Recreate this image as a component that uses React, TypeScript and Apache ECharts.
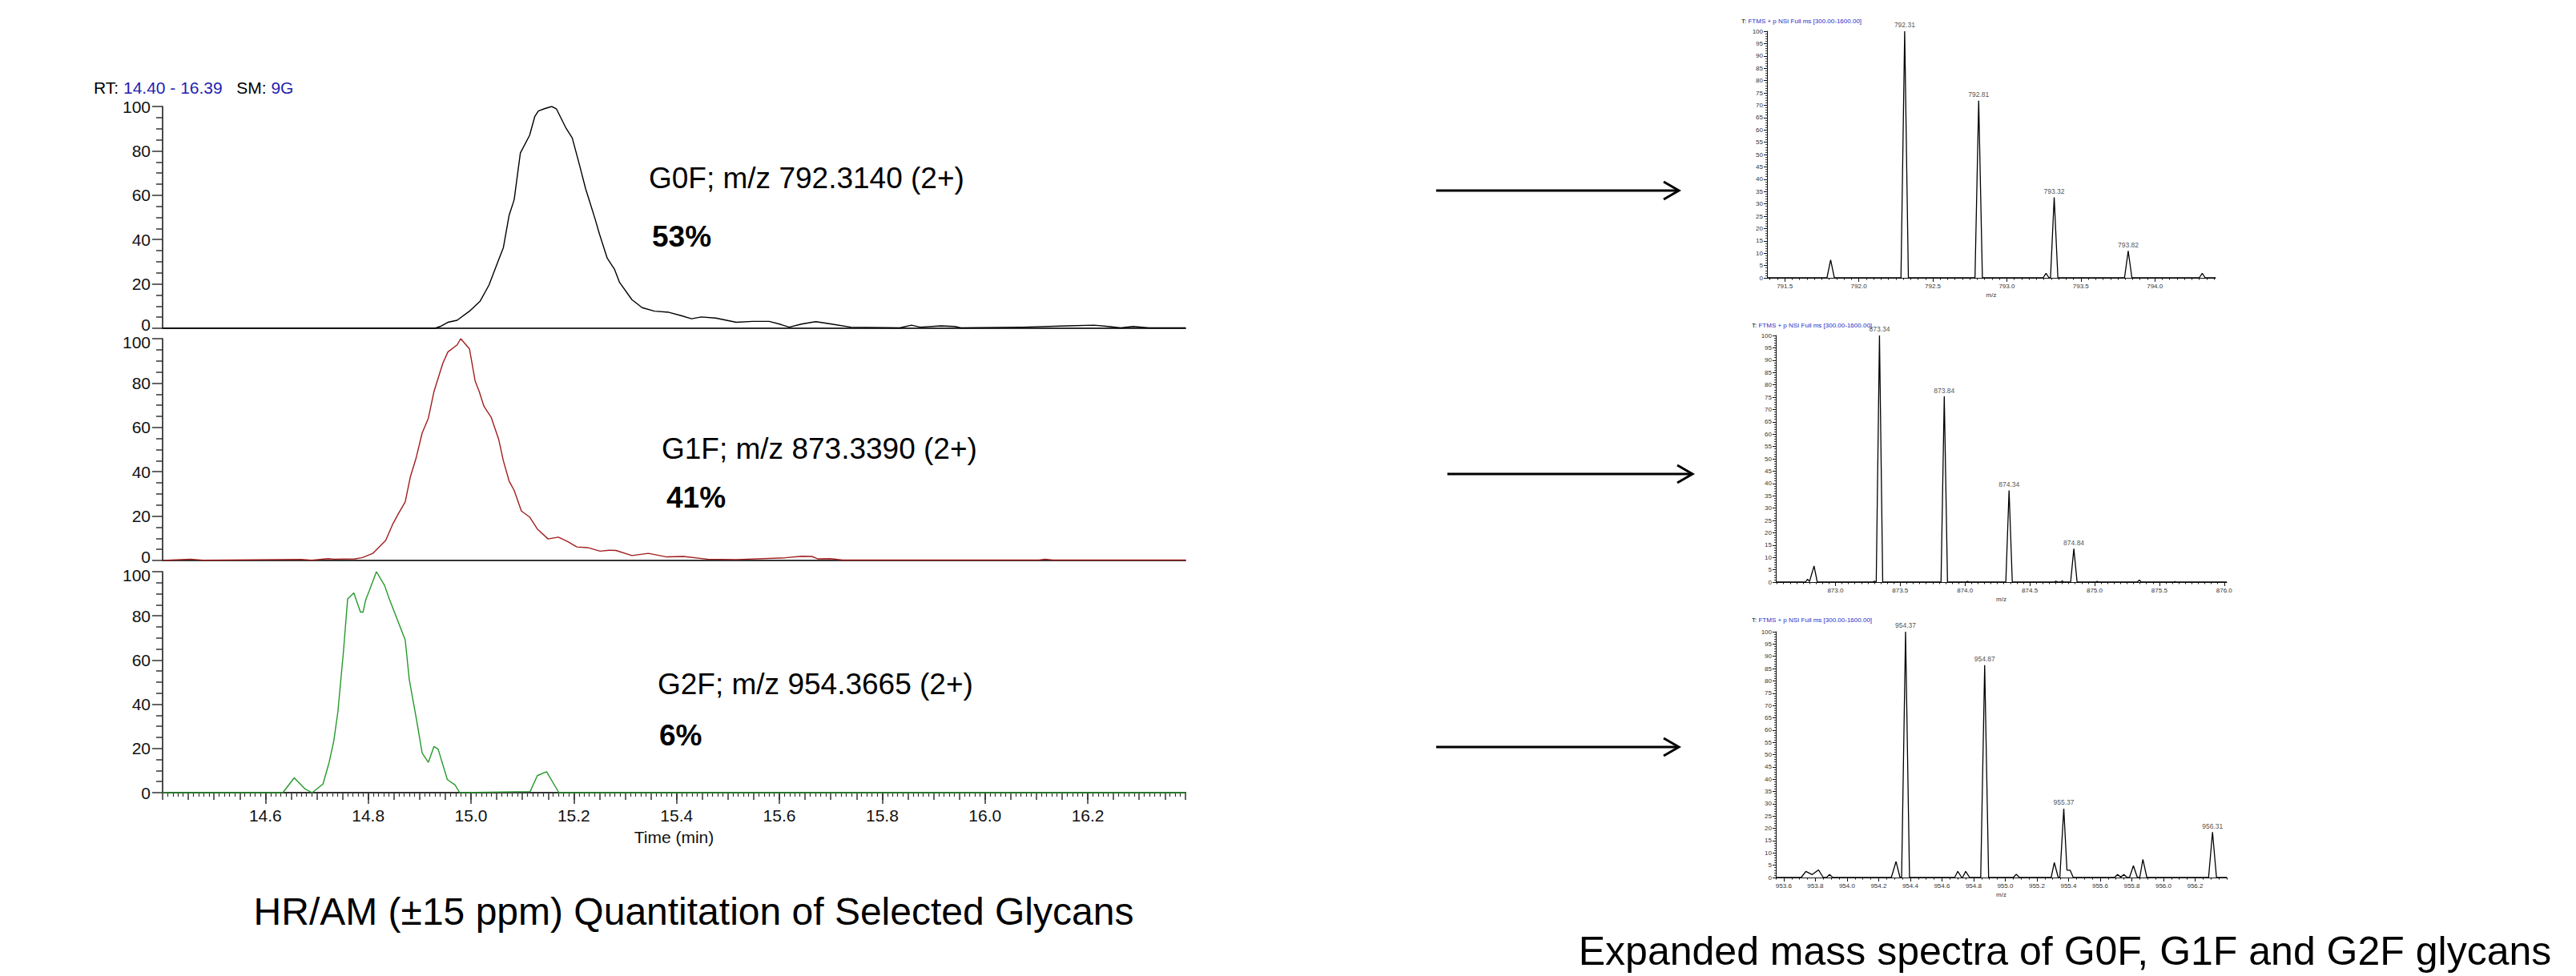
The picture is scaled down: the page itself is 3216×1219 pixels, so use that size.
import React, { useEffect, useRef } from "react";
import * as echarts from "echarts";

const FONT = "'Liberation Sans', Arial, Helvetica, sans-serif";

// ---------- chromatograms (left) ----------
const rtMin = 14.4;
const rtMax = 16.39;
const rtTickLabels = [14.6, 14.8, 15.0, 15.2, 15.4, 15.6, 15.8, 16.0, 16.2];

const g0fTime = [14.40, 14.93, 14.94, 14.955, 14.973, 14.997, 15.018, 15.035, 15.053, 15.063, 15.074, 15.084, 15.096, 15.114, 15.124, 15.131, 15.143, 15.157, 15.166, 15.184, 15.197, 15.211, 15.223, 15.241, 15.25, 15.265, 15.279, 15.289, 15.313, 15.333, 15.357, 15.385, 15.409, 15.429, 15.448, 15.476, 15.516, 15.548, 15.58, 15.603, 15.619, 15.643, 15.671, 15.699, 15.739, 15.834, 15.857, 15.874, 15.914, 15.941, 15.953, 16.073, 16.16, 16.212, 16.24, 16.264, 16.288, 16.319, 16.39];
const g0fIntensity = [0, 0, 0.8, 2.7, 3.6, 7.7, 12.3, 19.5, 30.4, 36.4, 50.8, 58.0, 79.0, 87.0, 95.4, 98.0, 99.0, 100, 99.0, 90.6, 85.8, 73.7, 62.9, 49.6, 42.4, 31.6, 26.7, 20.7, 12.9, 9.3, 7.7, 7.2, 5.7, 4.3, 5.1, 4.6, 2.7, 3.1, 3.1, 1.7, 0.5, 1.9, 3.0, 2.0, 0.5, 0.2, 1.4, 0.5, 1.1, 0.8, 0.2, 0.5, 1.1, 1.4, 0.8, 0.2, 0.8, 0.2, 0.2];

const g1fTime = [14.40, 14.454, 14.479, 14.67, 14.69, 14.722, 14.733, 14.774, 14.788, 14.809, 14.834, 14.847, 14.858, 14.872, 14.882, 14.893, 14.905, 14.917, 14.928, 14.945, 14.955, 14.973, 14.98, 14.997, 15.008, 15.016, 15.025, 15.032, 15.039, 15.054, 15.063, 15.074, 15.084, 15.098, 15.114, 15.129, 15.15, 15.17, 15.188, 15.206, 15.227, 15.251, 15.269, 15.282, 15.313, 15.345, 15.381, 15.413, 15.46, 15.516, 15.611, 15.643, 15.663, 15.675, 15.699, 15.723, 16.105, 16.117, 16.132, 16.39];
const g1fIntensity = [0, 0.6, 0.1, 0.5, 0.1, 0.8, 0.6, 0.7, 1.2, 3.2, 9.0, 16.0, 20.8, 26.4, 37.7, 46.0, 57.5, 64.1, 76.2, 88.8, 94.0, 97.2, 100, 95.4, 81.0, 76.2, 69.6, 67.1, 64.7, 54.5, 44.9, 35.9, 31.6, 22.3, 19.6, 14.2, 9.7, 10.5, 8.5, 6.1, 5.8, 4.2, 4.6, 4.5, 2.2, 3.2, 1.6, 1.8, 0.6, 0.4, 1.2, 1.9, 1.8, 0.7, 0.8, 0.2, 0.2, 0.6, 0.2, 0.2];

const g2fTime = [14.40, 14.634, 14.656, 14.677, 14.691, 14.712, 14.724, 14.733, 14.741, 14.752, 14.76, 14.772, 14.785, 14.79, 14.795, 14.802, 14.816, 14.832, 14.841, 14.854, 14.872, 14.88, 14.894, 14.905, 14.917, 14.928, 14.936, 14.954, 14.969, 14.978, 15.115, 15.129, 15.147, 15.171, 16.39];
const g2fIntensity = [0, 0, 6.7, 1.7, 0, 3.9, 13.7, 23.3, 36.6, 64.3, 87.7, 90.4, 81.7, 81.7, 87.1, 91.3, 100, 93.7, 87.7, 79.9, 69.1, 51.0, 33.0, 17.9, 13.7, 20.9, 19.7, 5.9, 3.5, 0, 0.5, 7.7, 9.5, 0, 0];

const glycanLabels = ["G0F; m/z 792.3140 (2+)", "G1F; m/z 873.3390 (2+)", "G2F; m/z 954.3665 (2+)"];
const glycanPercents = ["53%", "41%", "6%"];
const glycanColors = ["#000000", "#a11d1d", "#24992a"];

// ---------- mass spectra (right) ----------
const s1Range = [791.38, 794.41];
const s1MzTicks = [791.5, 792.0, 792.5, 793.0, 793.5, 794.0];
const s1Mz = [791.38, 791.785, 791.81, 791.835, 792.285, 792.31, 792.335, 792.785, 792.81, 792.835, 793.245, 793.265, 793.285, 793.295, 793.32, 793.345, 793.795, 793.82, 793.845, 794.30, 794.32, 794.34, 794.41];
const s1Int = [0, 0, 7.3, 0, 0, 100, 0, 0, 71.8, 0, 0, 1.8, 0, 0, 32.6, 0, 0, 10.9, 0, 0, 1.8, 0, 0];
const s1PeakMz = [792.31, 792.81, 793.32, 793.82];
const s1PeakInt = [100, 71.8, 32.6, 10.9];

const s2Range = [872.54, 876.02];
const s2MzTicks = [873.0, 873.5, 874.0, 874.5, 875.0, 875.5, 876.0];
const s2Mz = [872.54, 872.77, 872.785, 872.80, 872.835, 872.86, 873.29, 873.30, 873.31, 873.315, 873.34, 873.365, 873.815, 873.84, 873.865, 874.01, 874.02, 874.03, 874.315, 874.34, 874.365, 874.69, 874.70, 874.72, 874.74, 874.75, 874.76, 874.815, 874.84, 874.865, 875.01, 875.02, 875.03, 875.33, 875.345, 875.36, 875.61, 875.62, 875.63, 876.02];
const s2Int = [0, 0, 1.2, 0.2, 6.5, 0, 0, 0.4, 0, 0, 100, 0, 0, 75.3, 0, 0, 0.3, 0, 0, 37.2, 0, 0, 0.4, 0, 0, 0.5, 0, 0, 13.5, 0, 0, 0.3, 0, 0, 0.8, 0, 0, 0.2, 0, 0];
const s2PeakMz = [873.34, 873.84, 874.34, 874.84];
const s2PeakInt = [100, 75.3, 37.2, 13.5];

const s3Range = [953.55, 956.40];
const s3MzTicks = [953.6, 953.8, 954.0, 954.2, 954.4, 954.6, 954.8, 955.0, 955.2, 955.4, 955.6, 955.8, 956.0, 956.2];
const s3Mz = [953.55, 953.71, 953.74, 953.78, 953.82, 953.85, 953.87, 953.89, 953.91, 954.28, 954.31, 954.335, 954.345, 954.37, 954.395, 954.68, 954.70, 954.725, 954.73, 954.75, 954.775, 954.845, 954.87, 954.895, 955.05, 955.07, 955.09, 955.29, 955.31, 955.335, 955.345, 955.37, 955.39, 955.41, 955.43, 955.69, 955.71, 955.73, 955.75, 955.77, 955.785, 955.81, 955.835, 955.85, 955.87, 955.895, 956.285, 956.31, 956.335, 956.40];
const s3Int = [0, 0, 2.5, 1.2, 3.1, 0, 0, 1.2, 0, 0, 6.5, 0, 0, 100, 0, 0, 2.5, 0, 0, 2.5, 0, 0, 86.4, 0, 0, 1.3, 0, 0, 6.1, 0, 0, 28.0, 3.0, 3.0, 0, 0, 1.2, 0.2, 1.2, 0, 0, 4.8, 0, 0, 7.4, 0, 0, 18.5, 0, 0];
const s3PeakMz = [954.37, 954.87, 955.37, 956.31];
const s3PeakInt = [100, 86.4, 28.0, 18.5];

const spectrumTitle = "FTMS + p NSI Full ms [300.00-1600.00]";
const leftCaption = "HR/AM (\u00b115 ppm) Quantitation of Selected Glycans";
const rightCaption = "Expanded mass spectra of G0F, G1F and G2F glycans";

// ---------- helpers ----------
const zip = (xs: number[], ys: number[]) => xs.map((x, i) => [x, ys[i]]);
function stepTicks(min: number, max: number, step: number): number[] {
  const out: number[] = [];
  const k0 = Math.ceil(min / step - 1e-9);
  for (let k = k0; k * step <= max + 1e-9; k++) out.push(+(k * step).toFixed(4));
  return out;
}

function buildOption() {
  const chromGrids = [
    { left: 203, top: 133, width: 1277, height: 277 },
    { left: 203, top: 423, width: 1277, height: 277 },
    { left: 203, top: 714, width: 1277, height: 276 },
  ];
  const specGrids = [
    { left: 2206, top: 39, width: 560, height: 308 },
    { left: 2217, top: 419, width: 563, height: 308 },
    { left: 2217, top: 789, width: 563, height: 307 },
  ];
  const grids = [...chromGrids, ...specGrids].map((g) => ({ ...g, outerBoundsMode: "none", containLabel: false }));

  const tickLine = { color: "#333", width: 1.5 };
  const xAxes: any[] = [];
  const yAxes: any[] = [];

  // chromatogram x axes
  [0, 1].forEach((gi) => {
    xAxes.push({
      type: "value", gridIndex: gi, position: "bottom", min: rtMin, max: rtMax,
      axisLine: { show: true, onZero: false, lineStyle: { color: "#333", width: 2 } },
      axisTick: { show: false }, axisLabel: { show: false }, splitLine: { show: false },
    });
  });
  xAxes.push({
    type: "value", gridIndex: 2, position: "bottom", min: rtMin, max: rtMax,
    axisLine: { show: true, onZero: false, lineStyle: { color: "#333", width: 2 } },
    axisTick: { show: true, customValues: rtTickLabels, length: 14, lineStyle: tickLine },
    axisLabel: { show: true, customValues: rtTickLabels, formatter: (v: number) => v.toFixed(1), fontSize: 21, color: "#111", margin: 18, fontFamily: FONT },
    splitLine: { show: false },
    name: "Time (min)", nameLocation: "middle", nameGap: 45,
    nameTextStyle: { fontSize: 21, color: "#111", fontFamily: FONT },
  });
  xAxes.push({
    type: "value", gridIndex: 2, position: "bottom", min: rtMin, max: rtMax, interval: 0.05,
    axisLine: { show: false, onZero: false },
    axisTick: { show: true, length: 9, lineStyle: tickLine },
    minorTick: { show: true, splitNumber: 5, length: 5, lineStyle: { color: "#333", width: 1.2 } },
    axisLabel: { show: false }, splitLine: { show: false },
  });
  // chromatogram y axes
  const yLabelRich = {
    up: { fontSize: 21, color: "#111", fontFamily: FONT, padding: [0, 0, 9, 0] },
    dn: { fontSize: 21, color: "#111", fontFamily: FONT, padding: [9, 0, 0, 0] },
  };
  [0, 1, 2].forEach((gi) => {
    yAxes.push({
      type: "value", gridIndex: gi, min: 0, max: 100, interval: 20,
      axisLine: { show: true, onZero: false, lineStyle: { color: "#111", width: 1.5 } },
      axisTick: { show: true, length: 13, lineStyle: tickLine },
      minorTick: { show: true, splitNumber: 4, length: 8, lineStyle: tickLine },
      axisLabel: {
        fontSize: 21, color: "#111", margin: 15, fontFamily: FONT, rich: yLabelRich,
        formatter: (v: number) => {
          if (v === 0 && gi < 2) return "{up|0}";
          if (v === 100 && gi > 0) return "{dn|100}";
          return String(v);
        },
      },
      splitLine: { show: false }, minorSplitLine: { show: false },
    });
  });

  // spectra axes
  const specRanges = [s1Range, s2Range, s3Range];
  const specTicks = [s1MzTicks, s2MzTicks, s3MzTicks];
  const specMinorStep = [0.05, 0.05, 0.05];
  const specMainX: number[] = [];
  specGrids.forEach((_, k) => {
    const gi = 3 + k;
    const [mn, mx] = specRanges[k];
    specMainX.push(xAxes.length);
    xAxes.push({
      type: "value", gridIndex: gi, position: "bottom", min: mn, max: mx,
      axisLine: { show: true, onZero: false, lineStyle: { color: "#111", width: 1 } },
      axisTick: { show: true, customValues: specTicks[k], length: 5, lineStyle: { color: "#111", width: 1 } },
      axisLabel: { show: true, customValues: specTicks[k], formatter: (v: number) => v.toFixed(1), fontSize: 8, color: "#333", margin: 6, fontFamily: FONT },
      splitLine: { show: false },
      name: "m/z", nameLocation: "middle", nameGap: 17,
      nameTextStyle: { fontSize: 8, color: "#333", fontFamily: FONT },
    });
    xAxes.push({
      type: "value", gridIndex: gi, position: "bottom", min: mn, max: mx,
      axisLine: { show: false, onZero: false },
      axisTick: { show: true, customValues: stepTicks(mn, mx, specMinorStep[k]), length: 2.5, lineStyle: { color: "#111", width: 1 } },
      axisLabel: { show: false }, splitLine: { show: false },
    });
    yAxes.push({
      type: "value", gridIndex: gi, min: 0, max: 100, interval: 5,
      axisLine: { show: true, onZero: false, lineStyle: { color: "#111", width: 1 } },
      axisTick: { show: true, length: 4, lineStyle: { color: "#111", width: 1 } },
      minorTick: { show: true, splitNumber: 5, length: 2, lineStyle: { color: "#111", width: 0.8 } },
      axisLabel: { fontSize: 8, color: "#333", margin: 5, fontFamily: FONT },
      splitLine: { show: false }, minorSplitLine: { show: false },
    });
  });

  const chromData = [zip(g0fTime, g0fIntensity), zip(g1fTime, g1fIntensity), zip(g2fTime, g2fIntensity)];
  const series: any[] = chromData.map((d, i) => ({
    type: "line", xAxisIndex: i, yAxisIndex: i, data: d, showSymbol: false, symbol: "none",
    lineStyle: { color: glycanColors[i], width: 1.4 }, z: 5, silent: true,
  }));

  const specData = [zip(s1Mz, s1Int), zip(s2Mz, s2Int), zip(s3Mz, s3Int)];
  const specPeaks = [zip(s1PeakMz, s1PeakInt), zip(s2PeakMz, s2PeakInt), zip(s3PeakMz, s3PeakInt)];
  specData.forEach((d, k) => {
    series.push({
      type: "line", xAxisIndex: specMainX[k], yAxisIndex: 3 + k, data: d, showSymbol: false, symbol: "none",
      lineStyle: { color: "#000", width: 1.3 }, z: 5, silent: true,
    });
    series.push({
      type: "scatter", xAxisIndex: specMainX[k], yAxisIndex: 3 + k, data: specPeaks[k], symbolSize: 0.1,
      itemStyle: { color: "transparent" }, silent: true,
      label: { show: true, position: "top", distance: 3, formatter: (p: any) => p.value[0].toFixed(2), fontSize: 8.5, color: "#222", fontFamily: FONT },
    });
  });

  const graphics: any[] = [];
  // RT header
  graphics.push({
    type: "text", x: 117, y: 109,
    style: {
      text: "{k|RT:} {b|14.40 - 16.39}   {k|SM:} {b|9G}",
      verticalAlign: "middle", fontSize: 21, fontFamily: FONT,
      rich: {
        k: { fontSize: 21, fontFamily: FONT, fill: "#000" },
        b: { fontSize: 21, fontFamily: FONT, fill: "#1f1fb0" },
      },
    },
  });
  // glycan labels
  const labelPos = [[810, 222], [826, 560], [821, 854]];
  const pctPos = [[814, 295], [832, 621], [823, 918]];
  glycanLabels.forEach((t, i) => {
    graphics.push({ type: "text", x: labelPos[i][0], y: labelPos[i][1], style: { text: t, fontSize: 37, fontFamily: FONT, fill: "#000", verticalAlign: "middle" } });
    graphics.push({ type: "text", x: pctPos[i][0], y: pctPos[i][1], style: { text: glycanPercents[i], fontSize: 37, fontWeight: "bold", fontFamily: FONT, fill: "#000", verticalAlign: "middle" } });
  });
  // spectrum titles
  const titlePos = [[2174, 26], [2187, 406], [2187, 774]];
  titlePos.forEach((p) => {
    graphics.push({
      type: "text", x: p[0], y: p[1],
      style: {
        text: "{k|T:} {b|" + spectrumTitle + "}", verticalAlign: "middle", fontSize: 8, fontFamily: FONT,
        rich: { k: { fontSize: 8, fontFamily: FONT, fill: "#000" }, b: { fontSize: 8, fontFamily: FONT, fill: "#2b2bc8" } },
      },
    });
  });
  // arrows
  const arrows = [[1793, 2096, 238], [1807, 2113, 592], [1793, 2096, 933]];
  arrows.forEach(([x1, x2, y]) => {
    graphics.push({ type: "line", shape: { x1, y1: y, x2: x2 - 1, y2: y }, style: { stroke: "#000", lineWidth: 3 } });
    graphics.push({ type: "polyline", shape: { points: [[x2 - 19, y - 11], [x2, y], [x2 - 19, y + 11]] }, style: { stroke: "#000", lineWidth: 3, fill: null } });
  });
  // captions
  graphics.push({ type: "text", x: 866, y: 1138, style: { text: leftCaption, fontSize: 48, fontFamily: FONT, fill: "#000", align: "center", verticalAlign: "middle" } });
  graphics.push({ type: "text", x: 2578, y: 1188, style: { text: rightCaption, fontSize: 50, fontFamily: FONT, fill: "#000", align: "center", verticalAlign: "middle" } });

  return {
    animation: false,
    backgroundColor: "#ffffff",
    textStyle: { fontFamily: FONT },
    grid: grids,
    xAxis: xAxes,
    yAxis: yAxes,
    series,
    graphic: graphics,
  };
}

export default function App() {
  const ref = useRef<HTMLDivElement>(null);
  useEffect(() => {
    document.body.style.margin = "0";
    const chart = echarts.init(ref.current as HTMLDivElement, null, { renderer: "svg" });
    chart.setOption(buildOption() as any);
    return () => chart.dispose();
  }, []);
  return <div ref={ref} style={{ width: 3216, height: 1219, background: "#fff" }} />;
}
